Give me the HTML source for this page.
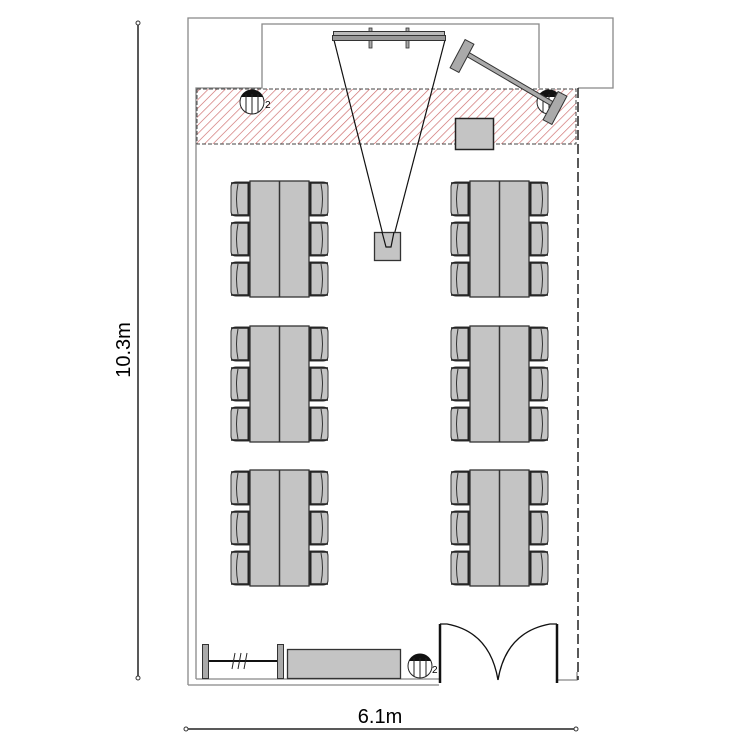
<!DOCTYPE html>
<html><head><meta charset="utf-8"><style>
html,body{margin:0;padding:0;background:#fff;}
svg{display:block;}
text{font-family:"Liberation Sans",sans-serif;}
</style></head><body>
<svg width="750" height="750" viewBox="0 0 750 750" xmlns="http://www.w3.org/2000/svg">
<defs>
<pattern id="hatch" patternUnits="userSpaceOnUse" width="6" height="6" patternTransform="rotate(45)">
<rect width="6" height="6" fill="#fff"/>
<line x1="0" y1="0" x2="0" y2="6" stroke="#c66" stroke-width="1.3"/>
</pattern>
<g id="chairL">
<path d="M0,5 Q0,0 5,0 L19,0 L19,34 L5,34 Q0,34 0,29 Z" fill="#c4c4c4" stroke="#333" stroke-width="1"/>
<path d="M7,2 Q4,17 7,32" fill="none" stroke="#333" stroke-width="1"/>
<line x1="17.5" y1="0" x2="17.5" y2="34" stroke="#222" stroke-width="2"/>
<line x1="0" y1="1" x2="19" y2="1" stroke="#222" stroke-width="1.5"/>
<line x1="0" y1="33" x2="19" y2="33" stroke="#222" stroke-width="1.5"/>
</g>
<g id="chairR">
<use href="#chairL" transform="translate(19,0) scale(-1,1)"/>
</g>
<g id="tbl">
<use href="#chairL" x="0" y="1"/>
<use href="#chairL" x="0" y="41"/>
<use href="#chairL" x="0" y="81"/>
<use href="#chairR" x="78" y="1"/>
<use href="#chairR" x="78" y="41"/>
<use href="#chairR" x="78" y="81"/>
<rect x="19" y="0" width="59" height="116" fill="#c4c4c4" stroke="#333" stroke-width="1.3"/>
<line x1="48.5" y1="0" x2="48.5" y2="116" stroke="#333" stroke-width="1.5"/>
</g>
</defs>

<line x1="138" y1="23" x2="138" y2="678" stroke="#222" stroke-width="1.5"/>
<circle cx="138" cy="23" r="2" fill="#fff" stroke="#333"/>
<circle cx="138" cy="678" r="2" fill="#fff" stroke="#333"/>
<text x="0" y="0" font-size="20" text-anchor="middle" transform="translate(130,350) rotate(-90)">10.3m</text>
<line x1="186" y1="729" x2="576" y2="729" stroke="#222" stroke-width="1.5"/>
<circle cx="186" cy="729" r="2" fill="#fff" stroke="#333"/>
<circle cx="576" cy="729" r="2" fill="#fff" stroke="#333"/>
<text x="380" y="723" font-size="20" text-anchor="middle">6.1m</text>

<path d="M188,685 L188,18 L613,18 L613,88 L578,88" fill="none" stroke="#888" stroke-width="1.3"/>
<path d="M196,679 L196,88 L262,88 L262,24 L539,24 L539,88" fill="none" stroke="#888" stroke-width="1.3"/>
<path d="M188,685 L439,685" stroke="#888" stroke-width="1.3"/>
<path d="M196,679 L439,679" stroke="#888" stroke-width="1.3"/>
<path d="M557,680 L577,680 L577,672" fill="none" stroke="#888" stroke-width="1.3"/>

<rect x="197" y="89" width="379" height="55" fill="url(#hatch)" stroke="#444" stroke-width="1" stroke-dasharray="4,2"/>
<line x1="578" y1="88" x2="578" y2="680" stroke="#222" stroke-width="1.5" stroke-dasharray="10,4"/>

<polyline points="334,40 386,247" fill="none" stroke="#111" stroke-width="1.2"/>
<polyline points="445,40 391,247" fill="none" stroke="#111" stroke-width="1.2"/>
<rect x="374.5" y="232.5" width="26" height="28" fill="#c4c4c4" stroke="#333" stroke-width="1.3"/>
<polyline points="382,232 386,247 391,247 394,232" fill="none" stroke="#111" stroke-width="1.2"/>
<rect x="369" y="28" width="3" height="20" fill="#aaa" stroke="#333" stroke-width="0.8"/>
<rect x="406" y="28" width="3" height="20" fill="#aaa" stroke="#333" stroke-width="0.8"/>
<rect x="333.5" y="31.5" width="111" height="4" fill="#bbb" stroke="#333" stroke-width="1"/>
<rect x="332.5" y="35.5" width="113" height="5" fill="#999" stroke="#333" stroke-width="1"/>

<rect x="455.5" y="118.5" width="38" height="31" fill="#c4c4c4" stroke="#222" stroke-width="1.5"/>

<g>
<circle cx="252" cy="102" r="12" fill="#fff" stroke="#222" stroke-width="1"/>
<path d="M241,97 A12,12 0 0 1 263,97 Z" fill="#111"/>
<line x1="246" y1="94" x2="246" y2="112" stroke="#222"/>
<line x1="252" y1="94" x2="252" y2="114" stroke="#222"/>
<line x1="258" y1="94" x2="258" y2="112" stroke="#222"/>
<text x="265" y="108" font-size="10">2</text>
</g>
<g>
<circle cx="549" cy="102" r="12" fill="#fff" stroke="#222" stroke-width="1"/>
<path d="M538,97 A12,12 0 0 1 560,97 Z" fill="#111"/>
<line x1="543" y1="94" x2="543" y2="112" stroke="#222"/>
<line x1="549" y1="94" x2="549" y2="114" stroke="#222"/>
<line x1="555" y1="94" x2="555" y2="112" stroke="#222"/>
</g>
<g stroke="#333" stroke-width="1" fill="#aaa">
<polygon points="461,53 463,49 557,104 555,108"/>
<rect x="-5" y="-16" width="10" height="32" transform="translate(462,56) rotate(28)"/>
<rect x="-5" y="-16" width="10" height="32" transform="translate(555,108) rotate(28)"/>
</g>

<use href="#tbl" x="231" y="181"/>
<use href="#tbl" x="451" y="181"/>
<use href="#tbl" x="231" y="326"/>
<use href="#tbl" x="451" y="326"/>
<use href="#tbl" x="231" y="470"/>
<use href="#tbl" x="451" y="470"/>

<line x1="205" y1="661" x2="280" y2="661" stroke="#111" stroke-width="2"/>
<rect x="202.5" y="644.5" width="6" height="34" fill="#aaa" stroke="#333"/>
<rect x="277.5" y="644.5" width="6" height="34" fill="#aaa" stroke="#333"/>
<g stroke="#222" stroke-width="1"><line x1="235" y1="653" x2="232" y2="669"/><line x1="241" y1="653" x2="238" y2="669"/><line x1="247" y1="653" x2="244" y2="669"/></g>
<rect x="287.5" y="649.5" width="113" height="29" fill="#c4c4c4" stroke="#333" stroke-width="1.3"/>
<g>
<circle cx="420" cy="666" r="12" fill="#fff" stroke="#222"/>
<path d="M409,661 A12,12 0 0 1 431,661 Z" fill="#111"/>
<line x1="414" y1="658" x2="414" y2="676" stroke="#222"/>
<line x1="420" y1="658" x2="420" y2="678" stroke="#222"/>
<line x1="426" y1="658" x2="426" y2="676" stroke="#222"/>
<text x="432" y="673" font-size="10">2</text>
</g>
<line x1="440" y1="624" x2="440" y2="683" stroke="#111" stroke-width="2.5"/>
<line x1="557" y1="624" x2="557" y2="683" stroke="#111" stroke-width="2.5"/>
<path d="M440,624 L447,624 Q490,632 498,680" fill="none" stroke="#111" stroke-width="1.3"/>
<path d="M557,624 L550,624 Q506,632 498,680" fill="none" stroke="#111" stroke-width="1.3"/>
</svg>
</body></html>
